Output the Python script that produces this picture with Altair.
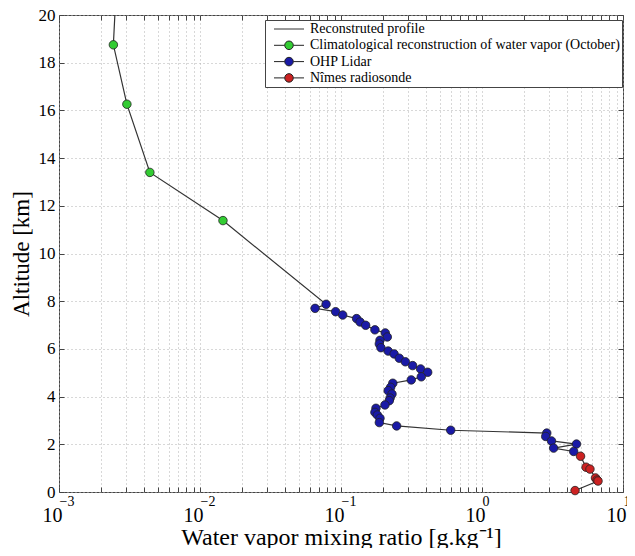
import altair as alt
import pandas as pd

# ---------------- data ----------------
series_names = [
    "Reconstruted profile",
    "Climatological reconstruction of water vapor (October)",
    "OHP Lidar",
    "Nîmes radiosonde",
]
series_fill = ["transparent", "#33cc33", "#1a1aa6", "#cc2222"]
series_edge = ["#333333", "#222222", "#222222", "#222222"]

# Climatological reconstruction (October) - green
clim_alt = [18.75, 16.26, 13.40, 11.38]
clim_wv = [0.00243, 0.00303, 0.00441, 0.01455]

# OHP Lidar - blue
lidar_alt = [7.87, 7.70, 7.56, 7.42, 7.27, 7.13, 6.99, 6.80, 6.67, 6.50,
             6.36, 6.21, 6.05, 5.91, 5.79, 5.61, 5.46, 5.30, 5.16, 5.02,
             4.83, 4.70, 4.56, 4.39, 4.25, 4.11, 3.94, 3.83, 3.65, 3.51,
             3.34, 3.23, 3.09, 2.91, 2.77, 2.59, 2.47, 2.33, 2.14, 2.01,
             1.84, 1.70]
lidar_wv = [0.0784, 0.0655, 0.0916, 0.1028, 0.129, 0.1365, 0.1496, 0.174, 0.206, 0.213,
            0.189, 0.187, 0.192, 0.216, 0.238, 0.259, 0.286, 0.322, 0.367, 0.412,
            0.371, 0.315, 0.233, 0.225, 0.216, 0.230, 0.223, 0.220, 0.205, 0.177,
            0.174, 0.181, 0.189, 0.187, 0.248, 0.600, 2.88, 2.83, 3.11, 4.68,
            3.22, 4.47]

# Nimes radiosonde - red
sonde_alt = [1.50, 1.04, 0.96, 0.59, 0.50, 0.46, 0.06]
sonde_wv = [5.00, 5.47, 5.83, 6.38, 6.55, 6.65, 4.57]

# top of the reconstructed profile (line only)
top_alt = [20.0]
top_wv = [0.00249]

# axis ticks
x_tick_values = [m * 10.0 ** e for e in (-3, -2, -1, 0) for m in range(1, 10)] + [10.0]
x_major_values = [0.001, 0.01, 0.1, 1.0, 10.0]
x_major_base = ["10", "10", "10", "10", "10"]
x_major_expo = ["−3", "−2", "−1", "0", "1"]
y_tick_values = [0, 2, 4, 6, 8, 10, 12, 14, 16, 18, 20]

# ---------------- tables ----------------
pts = pd.concat([
    pd.DataFrame({"alt": clim_alt, "wv": clim_wv, "series": series_names[1]}),
    pd.DataFrame({"alt": lidar_alt, "wv": lidar_wv, "series": series_names[2]}),
    pd.DataFrame({"alt": sonde_alt, "wv": sonde_wv, "series": series_names[3]}),
], ignore_index=True)
prof = pd.concat([
    pd.DataFrame({"alt": top_alt, "wv": top_wv}),
    pts[["alt", "wv"]],
], ignore_index=True)


def label_expr(texts):
    return " : ".join(
        f"abs(datum.value/{v} - 1) < 1e-6 ? '{t}'" for v, t in zip(x_major_values, texts)
    ) + " : ''"


FONT = "Liberation Serif"
TICK = "#444444"
xscale = alt.Scale(type="log", domain=[0.001, 10], nice=False)
yscale = alt.Scale(domain=[0, 20], nice=False)

# legend symbols (unit = 4.5 px): a 30 px line, optionally with a marker in its middle
line_only = "M0,0H6.67"
line_dot = ("M0,0H2.385A0.95,0.95 0 1,1 4.285,0A0.95,0.95 0 1,1 2.385,0"
            "M4.285,0H6.67")

# main line + bottom/left axes with grid
profile = alt.Chart(prof).mark_line(color="#333333", strokeWidth=1.2).encode(
    x=alt.X("wv:Q", scale=xscale, axis=alt.Axis(
        orient="bottom", values=x_tick_values, labelExpr=label_expr(x_major_base),
        grid=True, gridDash=[1, 3], gridColor="#b0b0b0", gridWidth=1,
        domain=False, offset=-5, tickSize=5, tickColor=TICK,
        labelFont=FONT, labelFontSize=20, labelColor="black", labelPadding=29,
        labelBaseline="alphabetic", labelOffset=-7,
        labelFlush=False, labelOverlap=False,
        title="Water vapor mixing ratio [g.kg⁻¹]", titleFont=FONT, titleFontSize=24,
        titleFontWeight="normal", titleColor="black", titleBaseline="alphabetic",
        titleY=57)),
    y=alt.Y("alt:Q", scale=yscale, axis=alt.Axis(
        orient="left", values=y_tick_values,
        grid=True, gridDash=[1, 3], gridColor="#b0b0b0", gridWidth=1,
        domain=False, offset=-5, tickSize=5, tickColor=TICK,
        labelFont=FONT, labelFontSize=17, labelColor="black", labelPadding=4,
        title="Altitude [km]", titleFont=FONT, titleFontSize=23,
        titleFontWeight="normal", titleColor="black", titleBaseline="alphabetic",
        titleX=-36)),
    order=alt.Order("alt:Q"),
)

# exponents of the x tick labels (second bottom axis)
expo = alt.Chart(prof).mark_point(opacity=0).encode(
    x=alt.X("wv:Q", scale=xscale, axis=alt.Axis(
        orient="bottom", values=x_major_values, labelExpr=label_expr(x_major_expo),
        grid=False, domain=False, ticks=False, offset=-5,
        labelFont=FONT, labelFontSize=14, labelColor="black", labelPadding=18,
        labelBaseline="alphabetic", labelAlign="left", labelOffset=0,
        labelFlush=False, labelOverlap=False, title=None)),
    y=alt.Y("alt:Q", scale=yscale, axis=None),
)

# inward ticks on top and right
frame_ticks = alt.Chart(prof).mark_point(opacity=0).encode(
    x=alt.X("wv:Q", scale=xscale, axis=alt.Axis(
        orient="top", values=x_tick_values, labels=False, grid=False, domain=False,
        offset=-5, tickSize=5, tickColor=TICK, title=None)),
    y=alt.Y("alt:Q", scale=yscale, axis=alt.Axis(
        orient="right", values=y_tick_values, labels=False, grid=False, domain=False,
        offset=-5, tickSize=5, tickColor=TICK, title=None)),
)

# markers, one layer per source
point_layers = []
for name, colour in zip(series_names[1:], series_fill[1:]):
    point_layers.append(
        alt.Chart(pts).transform_filter(alt.datum.series == name).mark_point(
            filled=True, size=72, fill=colour, stroke="#222222", strokeWidth=0.8, opacity=1
        ).encode(
            x=alt.X("wv:Q", scale=xscale, axis=None),
            y=alt.Y("alt:Q", scale=yscale, axis=None),
        )
    )

legend_def = dict(
    orient="none", legendX=206, legendY=5, title=None,
    strokeColor="#444444", fillColor="white", padding=2,
    labelFont=FONT, labelFontSize=14, labelColor="black", labelLimit=0,
    labelOffset=29, rowPadding=2.3,
    symbolSize=81, symbolOpacity=1, symbolFillColor="white",
    symbolStrokeColor="#333333", symbolStrokeWidth=1,
)

# invisible layer that carries the legend
carrier = alt.Chart(pts).mark_point(filled=True, opacity=0).encode(
    x=alt.X("wv:Q", scale=xscale, axis=None),
    y=alt.Y("alt:Q", scale=yscale, axis=None),
    fill=alt.Fill("series:N", scale=alt.Scale(domain=series_names, range=series_fill),
                  legend=alt.Legend(**legend_def)),
    stroke=alt.Stroke("series:N", scale=alt.Scale(domain=series_names, range=series_edge),
                      legend=alt.Legend(**legend_def)),
    shape=alt.Shape("series:N", scale=alt.Scale(
        domain=series_names, range=[line_only, line_dot, line_dot, line_dot]),
        legend=alt.Legend(**legend_def)),
)

chart = alt.layer(profile, expo, frame_ticks, *point_layers, carrier).resolve_axis(
    x="independent", y="independent"
).properties(
    width=564, height=477,
    autosize=alt.AutoSizeParams(type="none"),
    padding={"left": 51, "top": 7, "right": 4, "bottom": 56},
    background="white",
).configure(font=FONT).configure_axis(
    labelFont=FONT, titleFont=FONT
).configure_legend(labelFont=FONT).configure_view(stroke="#444444", strokeWidth=1)

chart.save("out.html", embed_options={"renderer": "svg", "actions": False})
